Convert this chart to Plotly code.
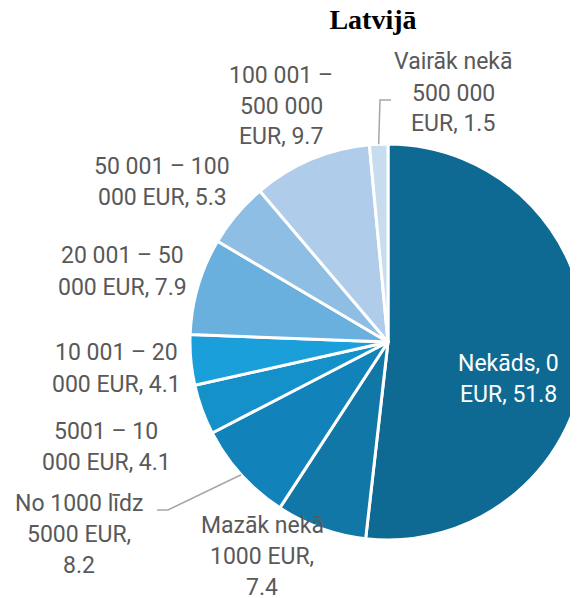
import math
import plotly.graph_objects as go

# data
categories = [
    "Nekāds, 0 EUR",
    "Mazāk nekā 1000 EUR",
    "No 1000 līdz 5000 EUR",
    "5001 – 10 000 EUR",
    "10 001 – 20 000 EUR",
    "20 001 – 50 000 EUR",
    "50 001 – 100 000 EUR",
    "100 001 – 500 000 EUR",
    "Vairāk nekā 500 000 EUR",
]
values = [51.8, 7.4, 8.2, 4.1, 4.1, 7.9, 5.3, 9.7, 1.5]

# how each label is wrapped in the source ({v} = value)
label_wrap = [
    ["Nekāds, 0", "EUR, {v}"],
    ["Mazāk nekā", "1000 EUR,", "{v}"],
    ["No 1000 līdz", "5000 EUR,", "{v}"],
    ["5001 – 10", "000 EUR, {v}"],
    ["10 001 – 20", "000 EUR, {v}"],
    ["20 001 – 50", "000 EUR, {v}"],
    ["50 001 – 100", "000 EUR, {v}"],
    ["100 001 –", "500 000", "EUR, {v}"],
    ["Vairāk nekā", "500 000", "EUR, {v}"],
]

colors = ["#0E6A93", "#1077A6", "#1283BA", "#1591CA", "#1B9FDB",
          "#6AB0DE", "#8FBEE4", "#AFCDEA", "#C8DCEF"]

# layout (pixels in the screenshot; the page body adds an 8px margin)
W, H = 600, 598
OFF = 8
CX, CY, R = 388, 342, 198
LINE_H = 31
# centre x and first-line y of each label block
label_pos = [(508, 363), (262, 525), (79, 503), (106, 431), (116, 353),
             (122, 256), (162, 166), (281, 75), (453, 62)]
# leader line bend points, going outward from the slice edge
leader = {2: [(168, 510), (157, 510)], 8: [(380, 100), (391, 100)]}


def px(x):
    return (x - OFF) / W


def py(y):
    return 1 - (y - OFF) / H


fig = go.Figure(go.Pie(
    labels=categories,
    values=values,
    sort=False,
    direction="clockwise",
    rotation=0,
    marker=dict(colors=colors, line=dict(color="white", width=3)),
    textinfo="none",
    hoverinfo="label+value",
    domain=dict(x=[px(CX - R), px(CX + R)], y=[py(CY + R), py(CY - R)]),
    showlegend=False,
))

annotations = []
for i, (lines, (lx, ly)) in enumerate(zip(label_wrap, label_pos)):
    col = "white" if i == 0 else "#595959"
    for k, ln in enumerate(lines):
        annotations.append(dict(
            x=px(lx), y=py(ly + k * LINE_H), xref="paper", yref="paper",
            text=ln.format(v=values[i]), showarrow=False,
            xanchor="center", yanchor="middle",
            font=dict(family="Roboto", size=23, color=col),
        ))

# leader lines start on the slice edge at its mid-angle
shapes = []
total = sum(values)
cum = 0
for i, v in enumerate(values):
    mid = (cum + v / 2) / total * 2 * math.pi
    cum += v
    if i in leader:
        ex = CX + R * math.sin(mid)
        ey = CY - R * math.cos(mid)
        pts = [(ex, ey)] + leader[i]
        path = "M " + " L ".join(f"{px(a)},{py(b)}" for a, b in pts)
        shapes.append(dict(type="path", path=path, xref="paper", yref="paper",
                           line=dict(color="#A6A6A6", width=1.5)))

fig.update_layout(
    width=W, height=H,
    margin=dict(l=0, r=0, t=0, b=0),
    paper_bgcolor="white",
    title=dict(text="<b>Latvijā</b>", x=px(373), y=py(19), xanchor="center",
               yanchor="middle", font=dict(family="Liberation Serif", size=28, color="black")),
    annotations=annotations,
    shapes=shapes,
)

fig.write_html("out.html")
